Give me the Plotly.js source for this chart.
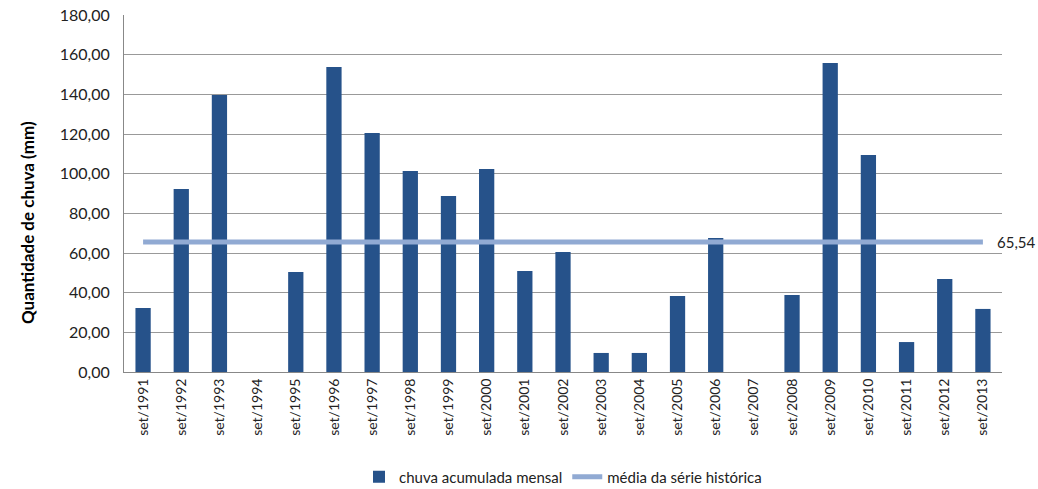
<!DOCTYPE html>
<html>
<head>
<meta charset="utf-8">
<script src="https://cdn.plot.ly/plotly-3.0.1.min.js"></script>
<style>html,body{margin:0;padding:0;background:#fff;}#chart{width:1038px;height:489px;}</style>
</head>
<body>
<div id="chart"></div>
<script>
var categories = ["set/1991","set/1992","set/1993","set/1994","set/1995","set/1996","set/1997","set/1998","set/1999","set/2000","set/2001","set/2002","set/2003","set/2004","set/2005","set/2006","set/2007","set/2008","set/2009","set/2010","set/2011","set/2012","set/2013"];
var chuva = [32.3, 92.3, 139.7, 0, 50.4, 153.8, 120.5, 101.4, 88.8, 102.4, 50.9, 60.5, 9.6, 9.6, 38.3, 67.6, 0, 38.8, 155.8, 109.4, 15.1, 46.9, 31.8];
var mediaValor = 65.54;
var media = categories.map(function(){ return mediaValor; });
var yTicks = [0, 20, 40, 60, 80, 100, 120, 140, 160, 180];

var font = "Lato, 'Open Sans', sans-serif";
var traces = [
  {type: 'bar', x: categories, y: chuva, name: 'chuva acumulada mensal',
   marker: {color: '#26528A'}, hoverinfo: 'x+y'},
  {type: 'scatter', mode: 'lines', x: categories, y: media, name: 'média da série histórica',
   line: {color: '#91AAD3', width: 5}, hoverinfo: 'y'}
];
var layout = {
  width: 1038, height: 489,
  margin: {l: 124, r: 36, t: 15, b: 117},
  separators: ',.',
  paper_bgcolor: '#fff', plot_bgcolor: '#fff',
  font: {family: font, size: 14, color: '#222'},
  bargap: 0.6,
  showlegend: true,
  legend: {orientation: 'h', x: 0.5, xanchor: 'center', yref: 'container', y: 0.0245, yanchor: 'middle',
           font: {family: font, size: 15, color: '#222'}, itemwidth: 30, tracegroupgap: 0},
  xaxis: {type: 'category', tickangle: -90, showline: true, linecolor: '#888', linewidth: 1,
          showgrid: false, ticks: '', automargin: false,
          tickfont: {family: font, size: 14, color: '#222'},
          range: [-0.5, 22.5]},
  yaxis: {range: [0, 180], tickvals: yTicks, tickformat: '.2f', showline: true,
          linecolor: '#888', linewidth: 1, gridcolor: '#999', gridwidth: 1,
          zeroline: false, ticks: '', ticklabelstandoff: 10, automargin: false,
          tickfont: {family: font, size: 16, color: '#222'}},
  annotations: [
    {x: categories[categories.length - 1], y: mediaValor, xref: 'x', yref: 'y',
     text: '65,54', showarrow: false, xanchor: 'left', xshift: 12,
     font: {family: font, size: 15, color: '#222'}},
    {x: -0.1105, y: 0.42, xref: 'paper', yref: 'paper', textangle: -90,
     text: 'Quantidade de chuva (mm)', showarrow: false, xanchor: 'center', yanchor: 'middle',
     font: {family: font, size: 17, color: '#000', weight: 'bold'}}
  ]
};
Plotly.newPlot('chart', traces, layout, {displayModeBar: false, staticPlot: true});
</script>
</body>
</html>
